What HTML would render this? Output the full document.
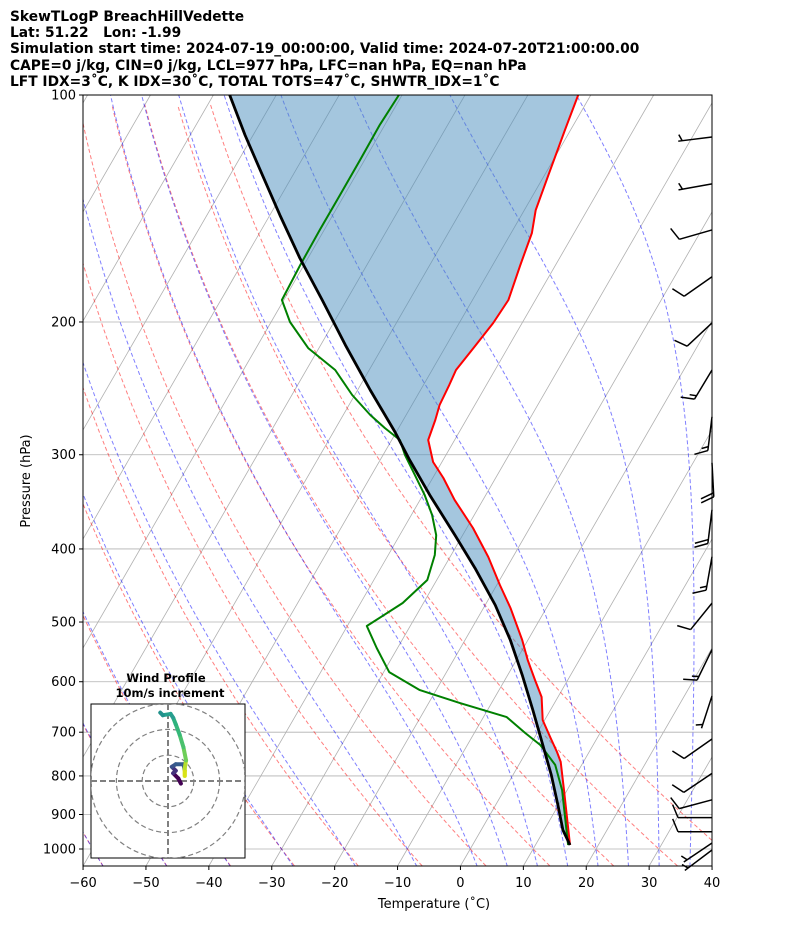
<!DOCTYPE html>
<html><head><meta charset="utf-8"><style>
html,body{margin:0;padding:0;background:#fff;width:794px;height:937px;overflow:hidden}
svg{display:block;font-family:"DejaVu Sans","Liberation Sans",sans-serif}
</style></head><body>
<svg id="chart" width="794" height="937" viewBox="0 0 794 937">
<defs><clipPath id="plotclip"><rect x="83" y="95" width="629" height="771"/></clipPath>
<clipPath id="hodoclip"><rect x="91" y="704" width="154" height="154"/></clipPath></defs>
<g font-size="13.8" font-weight="bold" fill="#000">
<text x="10" y="21">SkewTLogP BreachHillVedette</text>
<text x="10" y="37" xml:space="preserve">Lat: 51.22   Lon: -1.99</text>
<text x="10" y="53">Simulation start time: 2024-07-19_00:00:00, Valid time: 2024-07-20T21:00:00.00</text>
<text x="10" y="70">CAPE=0 j/kg, CIN=0 j/kg, LCL=977 hPa, LFC=nan hPa, EQ=nan hPa</text>
<text x="10" y="86">LFT IDX=3˚C, K IDX=30˚C, TOTAL TOTS=47˚C, SHWTR_IDX=1˚C</text>
</g>
<g id="bg" clip-path="url(#plotclip)"></g>
<g id="series" clip-path="url(#plotclip)"></g>
<g id="barbs"></g>
<rect x="83" y="95" width="629" height="771" fill="none" stroke="#000" stroke-width="1"/>
<g id="axes" font-size="13" fill="#000"></g>
<text x="434" y="908" text-anchor="middle" font-size="13">Temperature (˚C)</text>
<text x="30" y="481" text-anchor="middle" font-size="13" transform="rotate(-90 30 481)">Pressure (hPa)</text>
<g font-size="11.5" font-weight="bold" text-anchor="middle">
<text x="166" y="682">Wind Profile</text><text x="170" y="697">10m/s increment</text></g>
<g id="hodo"></g>
</svg>
<script>
// ---- data ----
const tempP=[100,111.3,127.6,142.1,152.4,168.1,187.0,200.6,215.9,231.6,242.4,257.7,269.8,286.8,306.7,322.1,344.4,375.2,410.0,446.6,479.0,528.2,561.4,596.9,628.6,674.5,712.4,743.6,766.5,835.3,921.0,987.9];
const tempT=[-52.0,-50.9,-49.4,-48.2,-46.7,-45.6,-44.3,-44.6,-45.4,-46.2,-45.9,-45.6,-44.9,-44.2,-41.4,-38.3,-34.5,-29.0,-23.9,-19.5,-15.7,-10.9,-8.2,-5.2,-2.6,-0.3,2.6,4.9,6.4,9.5,13.0,15.5];
const dewP=[100,109.6,121.9,135.7,151.0,168.1,187.0,200.0,216.6,231.6,250.0,265.7,276.5,286.8,300.3,319.2,339.3,360.6,383.5,407.5,439.8,471.8,506.1,541.3,582.6,615.5,640.5,668.4,701.8,727.9,773.6,835.3,921.0,987.9];
const dewT=[-80.5,-80.8,-80.7,-80.7,-80.7,-80.6,-80.3,-77.0,-71.7,-65.4,-60.4,-55.7,-52.2,-48.7,-46.5,-43.1,-39.7,-36.7,-34.2,-32.6,-31.5,-33.3,-36.9,-33.3,-29.1,-22.6,-15.0,-6.3,-1.9,1.6,5.8,9.2,12.7,15.2];
const parcelP=[100,113.0,127.6,144.3,164.5,187.0,214.5,246.2,279.9,304.9,339.3,383.5,424.1,474.7,528.2,587.7,654.0,727.9,797.7,874.2,943.6,987.9];
const parcelT=[-107.4,-101.3,-94.9,-88.4,-81.3,-73.9,-66.1,-58.0,-50.2,-45.3,-38.9,-31.2,-25.0,-18.4,-12.8,-7.7,-2.8,2.0,6.1,9.9,13.0,15.5];
const barbP=[113.7,131.2,151.0,174.2,200.6,231.6,267.2,307.5,354.9,409.6,472.0,543.9,626.6,714.6,793.8,860.5,908.6,948.7,981.9,1003];
const barbDir=[263,260,254,235,227,211,187,177,187,190,219,206,198,235,236,255,270,270,236,233];
const barbSpd=[5,5,10,10,10,15,15,20,20,15,10,15,5,10,10,10,10,10,5,5];
const hodoU=[5,4,2,3,1.5,3,6,6.5,6.5,6.5,7,6,4.5,3,2,1,-2,-3];
const hodoV=[-1,1,3,4,5.5,6.5,6.5,4,2,5,8,13,18,22,24.5,26,25.5,26.5];
const xTicks=[-60,-50,-40,-30,-20,-10,0,10,20,30,40];
const yTicks=[100,200,300,400,500,600,700,800,900,1000];
const hodoColors=['#440154','#440154','#46327e','#46327e','#3b528b','#365c8d','#365c8d','#fde725','#d8e219','#b5de2b','#6ece58','#4ac16d','#35b779','#2db27d','#2a9d8f','#25a18e','#21918c','#2a9d8f'];
// ---- scales ----
const NS='http://www.w3.org/2000/svg';
function Y(p){return 95+754*Math.log10(p/100);}
function X(T,p){return 83+(T+60)*6.29+0.577*(866-Y(p));}
function mk(tag,attrs,parent){const e=document.createElementNS(NS,tag);for(const k in attrs)e.setAttribute(k,attrs[k]);parent.appendChild(e);return e;}
const bg=document.getElementById('bg'),ser=document.getElementById('series'),axes=document.getElementById('axes'),barbs=document.getElementById('barbs'),hodo=document.getElementById('hodo');
function pathFrom(ps,ts){return ps.map((p,i)=>(i?'L':'M')+X(ts[i],p).toFixed(1)+','+Y(p).toFixed(1)).join('');}
for(let T=-170;T<=40;T+=10){const l=mk('line',{x1:X(T,1053),y1:866,x2:X(T,100),y2:95,stroke:'#b0b0b0','stroke-width':0.8},bg);

}
yTicks.forEach(p=>{const l=mk('line',{x1:83,x2:712,y1:Y(p),y2:Y(p),stroke:'#b0b0b0','stroke-width':0.8},bg);

});
const levs=[];for(let p=1053;p>=100;p-=5)levs.push(p);
for(let t0=-60;t0<=40;t0+=10){const ts=levs.map(p=>(t0+273.15)*Math.pow(p/1000,0.2857)-273.15);
const e=mk('path',{d:pathFrom(levs,ts),fill:'none',stroke:'#ff0000','stroke-opacity':0.5,'stroke-width':1,'stroke-dasharray':'4,2.5'},bg);

}
function es(Tk){const c=Tk-273.15;return 6.112*Math.exp(17.67*c/(c+243.5));}
function dTdp(p,T){const e=es(T),rs=0.622*e/(p-e);const Rd=287.04,cp=1005.7,Lv=2.501e6;
return (1/p)*(Rd*T+Lv*rs)/(cp+Lv*Lv*rs*0.622/(Rd*T*T));}
function moist(t0){const up=[],dn=[];let T=t0+273.15,p=1000,h=-5;
while(p>100){const k1=dTdp(p,T),k2=dTdp(p+h/2,T+h/2*k1),k3=dTdp(p+h/2,T+h/2*k2),k4=dTdp(p+h,T+h*k3);T+=h/6*(k1+2*k2+2*k3+k4);p+=h;up.push([p,T-273.15]);}
T=t0+273.15;p=1000;h=5;while(p<1053){const k1=dTdp(p,T);T+=h*k1;p+=h;dn.push([p,T-273.15]);}
return dn.reverse().concat([[1000,t0]]).concat(up);}
const moistT0=[-60,-50,-40,-30,-20,-10,0,5,10,15,20,25,30,35,40];
moistT0.forEach(t0=>{const a=moist(t0);const e=mk('path',{d:pathFrom(a.map(v=>v[0]),a.map(v=>v[1])),fill:'none',stroke:'#0000ff','stroke-opacity':0.5,'stroke-width':1,'stroke-dasharray':'4,2.5'},bg);

});
let fillD=pathFrom(tempP,tempT);
for(let i=parcelP.length-1;i>=0;i--)fillD+='L'+X(parcelT[i],parcelP[i]).toFixed(1)+','+Y(parcelP[i]).toFixed(1);
const fa=mk('path',{d:fillD+'Z',fill:'rgb(73,141,189)','fill-opacity':0.5,stroke:'none'},ser);


const tl=mk('path',{d:pathFrom(tempP,tempT),fill:'none',stroke:'#ff0000','stroke-width':2,'stroke-linejoin':'round'},ser);


const dl=mk('path',{d:pathFrom(dewP,dewT),fill:'none',stroke:'#008000','stroke-width':2,'stroke-linejoin':'round'},ser);


const pl=mk('path',{d:pathFrom(parcelP,parcelT),fill:'none',stroke:'#000','stroke-width':2.8,'stroke-linejoin':'round'},ser);


xTicks.forEach(t=>{const x=X(t,1053);mk('line',{x1:x,x2:x,y1:866,y2:870,stroke:'#000'},axes);
const tx=mk('text',{x:x,y:887,'text-anchor':'middle'},axes);tx.textContent=(t<0?'\u2212':'')+Math.abs(t);

});
yTicks.forEach(p=>{const y=Y(p);mk('line',{x1:79,x2:83,y1:y,y2:y,stroke:'#000'},axes);
const tx=mk('text',{x:76,y:y+4.5,'text-anchor':'end'},axes);tx.textContent=p;

});
barbP.forEach((p,i)=>{const bx=712,by=Y(p);const a=barbDir[i]*Math.PI/180;const dx=Math.sin(a),dy=-Math.cos(a);
const L=34,tx=bx+dx*L,ty=by+dy*L;const g=mk('g',{stroke:'#000','stroke-width':1.5,fill:'none'},barbs);


mk('line',{x1:bx,y1:by,x2:tx,y2:ty},g);
const px=-dy,py=dx;let s=barbSpd[i],pos=0;
const fx=px*0.92+dx*0.38,fy=py*0.92+dy*0.38;
while(s>=10){const sx=tx-dx*pos,sy=ty-dy*pos;mk('line',{x1:sx,y1:sy,x2:sx+fx*14,y2:sy+fy*14},g);pos+=4;s-=10;}
if(s>=5){if(pos===0)pos=4;const sx=tx-dx*pos,sy=ty-dy*pos;mk('line',{x1:sx,y1:sy,x2:sx+fx*7,y2:sy+fy*7},g);}
});
const hb=mk('rect',{x:91,y:704,width:154,height:154,fill:'#fff',stroke:'#000','stroke-width':1},hodo);


const hg=mk('g',{'clip-path':'url(#hodoclip)'},hodo);
const hcx=168,hcy=781,hs=2.58;
[10,20,30].forEach(r=>{const c=mk('circle',{cx:hcx,cy:hcy,r:r*hs,fill:'none',stroke:'#808080','stroke-width':1.2,'stroke-dasharray':'5,3'},hg);

});
mk('line',{x1:91,x2:245,y1:hcy,y2:hcy,stroke:'#808080','stroke-width':2,'stroke-dasharray':'6,3'},hg);
mk('line',{x1:hcx,x2:hcx,y1:704,y2:858,stroke:'#808080','stroke-width':2,'stroke-dasharray':'6,3'},hg);
for(let i=0;i<hodoU.length-1;i++){const s=mk('line',{x1:hcx+hodoU[i]*hs,y1:hcy-hodoV[i]*hs,x2:hcx+hodoU[i+1]*hs,y2:hcy-hodoV[i+1]*hs,stroke:hodoColors[i],'stroke-width':4,'stroke-linecap':'round'},hg);

}
</script>
</body></html>
